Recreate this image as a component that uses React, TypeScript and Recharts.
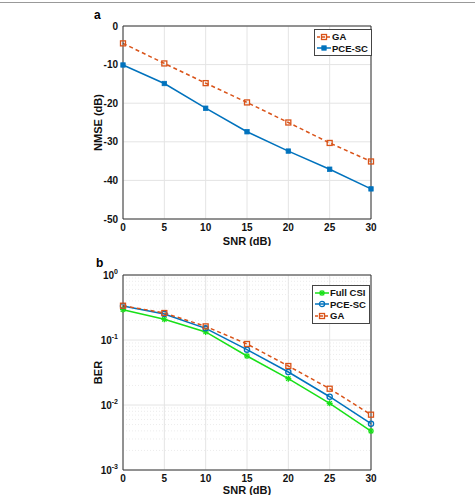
import { CartesianGrid, Legend, Line, LineChart, ReferenceLine, XAxis, YAxis } from "recharts";

// x axis (dB)
const snr = [0, 5, 10, 15, 20, 25, 30];
const xTicks = [0, 5, 10, 15, 20, 25, 30];

// panel a: NMSE (dB)
const nmseGA = [-4.5, -9.7, -14.8, -19.8, -25.0, -30.3, -35.1];
const nmsePCE = [-10.1, -14.9, -21.3, -27.4, -32.4, -37.1, -42.2];
const nmseTicks = [-50, -40, -30, -20, -10, 0];

// panel b: BER (log)
const berFull = [0.293, 0.208, 0.133, 0.0567, 0.0254, 0.0106, 0.00398];
const berPCE = [0.333, 0.251, 0.151, 0.071, 0.0322, 0.0134, 0.00516];
const berGA = [0.337, 0.26, 0.162, 0.0868, 0.0398, 0.0178, 0.0071];
const berTicks = [0.001, 0.01, 0.1, 1];
const berExp = ["-3", "-2", "-1", "0"];
const minorMult = [2, 3, 4, 5, 6, 7, 8, 9];
const minorDecades = [0.001, 0.01, 0.1];

const ORANGE = "#D95319";
const BLUE = "#0072BD";
const GREEN = "#18e018";
const FONT = "'Liberation Sans', Arial, Helvetica, sans-serif";

const dataA = snr.map((s, i) => ({ snr: s, ga: nmseGA[i], pce: nmsePCE[i] }));
const dataB = snr.map((s, i) => ({ snr: s, full: berFull[i], pce: berPCE[i], ga: berGA[i] }));
const minorTicks = minorDecades.flatMap(d => minorMult.map(m => +(d * m).toPrecision(3)));

type Marker = 'square' | 'fsquare' | 'circle' | 'star';

const drawMarker = (kind: Marker, color: string, cx: number, cy: number, key?: string) => {
    if (kind === 'square') return <rect key={key} x={cx - 2.5} y={cy - 2.5} width={5} height={5} fill="none" stroke={color} strokeWidth={1.3} />;
    if (kind === 'fsquare') return <rect key={key} x={cx - 2.2} y={cy - 2.2} width={4.4} height={4.4} fill={color} stroke={color} strokeWidth={0.8} />;
    if (kind === 'circle') return <circle key={key} cx={cx} cy={cy} r={2.6} fill="none" stroke={color} strokeWidth={1.3} />;
    return (
        <g key={key} stroke={color} strokeWidth={1.3}>
            <line x1={cx - 3} y1={cy} x2={cx + 3} y2={cy} />
            <line x1={cx} y1={cy - 3} x2={cx} y2={cy + 3} />
            <line x1={cx - 2.2} y1={cy - 2.2} x2={cx + 2.2} y2={cy + 2.2} />
            <line x1={cx - 2.2} y1={cy + 2.2} x2={cx + 2.2} y2={cy - 2.2} />
        </g>
    );
};

const dot = (kind: Marker, color: string) => (p: any) => drawMarker(kind, color, p.cx, p.cy, `d-${p.index}`);

const LegendBox = ({ items, left, top }: { items: { name: string; color: string; kind: Marker; dash?: boolean }[]; left: number; top: number }) => (
    <div style={{ position: 'absolute', left, top, border: '1px solid #444', background: 'white', padding: '1px 3px 1px 0', fontFamily: FONT, fontWeight: 'bold', fontSize: 9.5, whiteSpace: 'nowrap' }}>
        {items.map(it => (
            <div key={it.name} style={{ display: 'flex', alignItems: 'center', height: 11.5 }}>
                <svg width={14} height={10} style={{ marginLeft: 2, marginRight: 1 }}>
                    <line x1={0} y1={5} x2={14} y2={5} stroke={it.color} strokeWidth={1.5} strokeDasharray={it.dash ? '3 2' : undefined} />
                    {drawMarker(it.kind, it.color, 7, 5)}
                </svg>
                <span style={{ color: '#111' }}>{it.name}</span>
            </div>
        ))}
    </div>
);

const yLabel = (text: string) => ({ viewBox }: any) => (
    <text x={viewBox.x + 15} y={viewBox.y + viewBox.height / 2} transform={`rotate(-90 ${viewBox.x + 15} ${viewBox.y + viewBox.height / 2})`}
        textAnchor="middle" dominantBaseline="central" fontFamily={FONT} fontWeight="bold" fontSize={11} fill="#111">{text}</text>
);

const xLabel = ({ viewBox }: any) => (
    <text x={viewBox.x + viewBox.width / 2} y={viewBox.y + viewBox.height - 1} textAnchor="middle" fontFamily={FONT} fontWeight="bold" fontSize={11} fill="#111">SNR (dB)</text>
);

const logTick = (props: any) => {
    const i = berTicks.indexOf(props.payload.value);
    return (
        <text x={props.x} y={props.y + 4} textAnchor="end" fontFamily={FONT} fontWeight="bold" fontSize={10} fill="#111">
            <tspan>10</tspan>
            <tspan dy={-5} fontSize={7}>{berExp[i]}</tspan>
        </text>
    );
};

const tickStyle = { fontFamily: FONT, fontWeight: 'bold' as const, fontSize: 10, fill: '#111' };

const App = () => {
    return (
        <div style={{ position: 'absolute', left: 0, top: 0, width: 475, height: 495, background: 'white', overflow: 'hidden' }}>
            <div style={{ position: 'absolute', left: 0, top: 2, width: 475, height: 1, background: '#999' }} />
            <div style={{ position: 'absolute', left: 94, top: 8, fontFamily: FONT, fontWeight: 'bold', fontSize: 12 }}>a</div>
            <div style={{ position: 'absolute', left: 96, top: 256, fontFamily: FONT, fontWeight: 'bold', fontSize: 12 }}>b</div>

            <div style={{ position: 'absolute', left: 0, top: 0 }}>
                <LineChart width={475} height={246} data={dataA} margin={{ top: 26, right: 104, left: 83, bottom: 0 }}>
                    <CartesianGrid stroke="#e4e4e4" />
                    <XAxis dataKey="snr" type="number" domain={[0, 30]} ticks={xTicks} tick={tickStyle} tickLine={false} tickSize={0} tickMargin={5}
                        stroke="#333" height={27} label={xLabel} />
                    <YAxis type="number" domain={[-50, 0]} ticks={nmseTicks} tick={tickStyle} tickLine={false} tickSize={0} tickMargin={5}
                        stroke="#333" width={40} label={yLabel('NMSE (dB)')} />
                    <ReferenceLine y={0} stroke="#333" />
                    <ReferenceLine x={30} stroke="#333" />
                    <Line dataKey="ga" name="GA" stroke={ORANGE} strokeWidth={1.5} strokeDasharray="4 3" dot={dot('square', ORANGE)} isAnimationActive={false} />
                    <Line dataKey="pce" name="PCE-SC" stroke={BLUE} strokeWidth={1.5} dot={dot('fsquare', BLUE)} isAnimationActive={false} />
                    <Legend layout="vertical" align="center" verticalAlign="middle" wrapperStyle={{ left: 0, top: 0, width: 0, height: 0 }}
                        content={() => <LegendBox left={314} top={29} items={[
                            { name: 'GA', color: ORANGE, kind: 'square', dash: true },
                            { name: 'PCE-SC', color: BLUE, kind: 'fsquare' },
                        ]} />} />
                </LineChart>
            </div>

            <div style={{ position: 'absolute', left: 0, top: 250 }}>
                <LineChart width={475} height={245} data={dataB} margin={{ top: 25, right: 104, left: 83, bottom: 0 }}>
                    <CartesianGrid stroke="#e4e4e4" />
                    {minorTicks.map(v => (
                        <ReferenceLine key={v} y={v} stroke="#ececec" strokeDasharray="1 2" />
                    ))}
                    <XAxis dataKey="snr" type="number" domain={[0, 30]} ticks={xTicks} tick={tickStyle} tickLine={false} tickSize={0} tickMargin={5}
                        stroke="#333" height={25} label={xLabel} />
                    <YAxis type="number" scale="log" domain={[0.001, 1]} allowDataOverflow ticks={berTicks} tick={logTick} tickLine={false} tickSize={0} tickMargin={5}
                        stroke="#333" width={40} label={yLabel('BER')} />
                    <ReferenceLine y={1} stroke="#333" />
                    <ReferenceLine x={30} stroke="#333" />
                    <Line dataKey="full" name="Full CSI" stroke={GREEN} strokeWidth={1.5} dot={dot('star', GREEN)} isAnimationActive={false} />
                    <Line dataKey="pce" name="PCE-SC" stroke={BLUE} strokeWidth={1.5} dot={dot('circle', BLUE)} isAnimationActive={false} />
                    <Line dataKey="ga" name="GA" stroke={ORANGE} strokeWidth={1.5} strokeDasharray="4 3" dot={dot('square', ORANGE)} isAnimationActive={false} />
                    <Legend layout="vertical" align="center" verticalAlign="middle" wrapperStyle={{ left: 0, top: 0, width: 0, height: 0 }}
                        content={() => <LegendBox left={312} top={35} items={[
                            { name: 'Full CSI', color: GREEN, kind: 'star' },
                            { name: 'PCE-SC', color: BLUE, kind: 'circle' },
                            { name: 'GA', color: ORANGE, kind: 'square', dash: true },
                        ]} />} />
                </LineChart>
            </div>
        </div>
    );
}

export default App;
